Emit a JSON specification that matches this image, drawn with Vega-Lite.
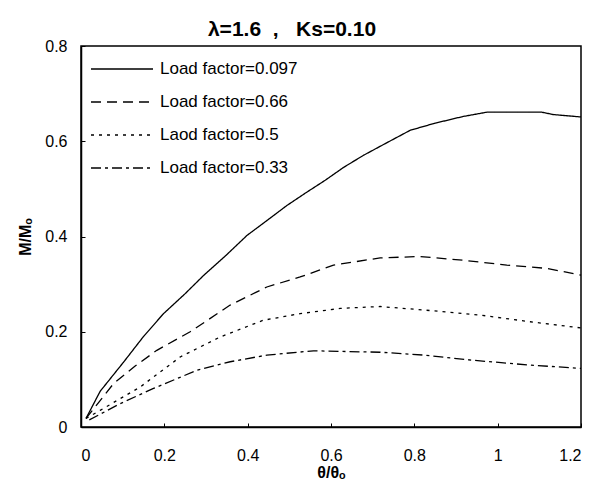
{
  "$schema": "https://vega.github.io/schema/vega-lite/v6.json",
  "width": 500,
  "height": 381,
  "autosize": "none",
  "padding": {"left": 81, "top": 46, "right": 15, "bottom": 62},
  "background": "white",
  "title": {"text": "λ=1.6\u00a0\u00a0,\u00a0\u00a0\u00a0Ks=0.10", "font": "Liberation Sans", "fontSize": 21, "fontWeight": "bold", "color": "black", "anchor": "middle", "dx": -39, "dy": 28, "offset": 9, "baseline": "alphabetic"},
  "config": {
    "view": {"stroke": "black", "strokeWidth": 1.5},
    "axis": {"grid": false, "domainColor": "black", "domainWidth": 1.5, "tickColor": "black", "tickWidth": 1, "tickSize": -4, "labelFont": "Liberation Sans", "labelFontSize": 16, "labelColor": "black", "titleFont": "Liberation Sans", "titleFontSize": 16, "titleFontWeight": "bold", "titleColor": "black", "format": "~g"}
  },
  "data": {"values": [
    {"x": 0.012, "y": 0.018, "s": "Load factor=0.097"},
    {"x": 0.046, "y": 0.075, "s": "Load factor=0.097"},
    {"x": 0.102, "y": 0.136, "s": "Load factor=0.097"},
    {"x": 0.15, "y": 0.19, "s": "Load factor=0.097"},
    {"x": 0.198, "y": 0.238, "s": "Load factor=0.097"},
    {"x": 0.25, "y": 0.28, "s": "Load factor=0.097"},
    {"x": 0.294, "y": 0.318, "s": "Load factor=0.097"},
    {"x": 0.35, "y": 0.362, "s": "Load factor=0.097"},
    {"x": 0.398, "y": 0.402, "s": "Load factor=0.097"},
    {"x": 0.45, "y": 0.436, "s": "Load factor=0.097"},
    {"x": 0.494, "y": 0.465, "s": "Load factor=0.097"},
    {"x": 0.54, "y": 0.492, "s": "Load factor=0.097"},
    {"x": 0.586, "y": 0.518, "s": "Load factor=0.097"},
    {"x": 0.63, "y": 0.545, "s": "Load factor=0.097"},
    {"x": 0.677, "y": 0.57, "s": "Load factor=0.097"},
    {"x": 0.73, "y": 0.595, "s": "Load factor=0.097"},
    {"x": 0.79, "y": 0.623, "s": "Load factor=0.097"},
    {"x": 0.85, "y": 0.638, "s": "Load factor=0.097"},
    {"x": 0.917, "y": 0.652, "s": "Load factor=0.097"},
    {"x": 0.974, "y": 0.661, "s": "Load factor=0.097"},
    {"x": 1.04, "y": 0.661, "s": "Load factor=0.097"},
    {"x": 1.106, "y": 0.661, "s": "Load factor=0.097"},
    {"x": 1.134, "y": 0.656, "s": "Load factor=0.097"},
    {"x": 1.2, "y": 0.651, "s": "Load factor=0.097"},
    {"x": 0.012, "y": 0.018, "s": "Load factor=0.66"},
    {"x": 0.078, "y": 0.091, "s": "Load factor=0.66"},
    {"x": 0.13, "y": 0.128, "s": "Load factor=0.66"},
    {"x": 0.182, "y": 0.161, "s": "Load factor=0.66"},
    {"x": 0.262, "y": 0.2, "s": "Load factor=0.66"},
    {"x": 0.358, "y": 0.256, "s": "Load factor=0.66"},
    {"x": 0.446, "y": 0.294, "s": "Load factor=0.66"},
    {"x": 0.526, "y": 0.315, "s": "Load factor=0.66"},
    {"x": 0.606, "y": 0.34, "s": "Load factor=0.66"},
    {"x": 0.718, "y": 0.355, "s": "Load factor=0.66"},
    {"x": 0.814, "y": 0.358, "s": "Load factor=0.66"},
    {"x": 0.918, "y": 0.35, "s": "Load factor=0.66"},
    {"x": 1.022, "y": 0.34, "s": "Load factor=0.66"},
    {"x": 1.118, "y": 0.333, "s": "Load factor=0.66"},
    {"x": 1.2, "y": 0.319, "s": "Load factor=0.66"},
    {"x": 0.012, "y": 0.018, "s": "Laod factor=0.5"},
    {"x": 0.046, "y": 0.035, "s": "Laod factor=0.5"},
    {"x": 0.142, "y": 0.084, "s": "Laod factor=0.5"},
    {"x": 0.238, "y": 0.147, "s": "Laod factor=0.5"},
    {"x": 0.334, "y": 0.189, "s": "Laod factor=0.5"},
    {"x": 0.437, "y": 0.224, "s": "Laod factor=0.5"},
    {"x": 0.526, "y": 0.238, "s": "Laod factor=0.5"},
    {"x": 0.622, "y": 0.249, "s": "Laod factor=0.5"},
    {"x": 0.718, "y": 0.253, "s": "Laod factor=0.5"},
    {"x": 0.846, "y": 0.244, "s": "Laod factor=0.5"},
    {"x": 0.958, "y": 0.235, "s": "Laod factor=0.5"},
    {"x": 1.078, "y": 0.221, "s": "Laod factor=0.5"},
    {"x": 1.2, "y": 0.208, "s": "Laod factor=0.5"},
    {"x": 0.02, "y": 0.015, "s": "Load factor=0.33"},
    {"x": 0.094, "y": 0.049, "s": "Load factor=0.33"},
    {"x": 0.174, "y": 0.081, "s": "Load factor=0.33"},
    {"x": 0.278, "y": 0.119, "s": "Load factor=0.33"},
    {"x": 0.358, "y": 0.137, "s": "Load factor=0.33"},
    {"x": 0.446, "y": 0.151, "s": "Load factor=0.33"},
    {"x": 0.558, "y": 0.16, "s": "Load factor=0.33"},
    {"x": 0.718, "y": 0.157, "s": "Load factor=0.33"},
    {"x": 0.822, "y": 0.151, "s": "Load factor=0.33"},
    {"x": 0.942, "y": 0.14, "s": "Load factor=0.33"},
    {"x": 1.078, "y": 0.13, "s": "Load factor=0.33"},
    {"x": 1.2, "y": 0.123, "s": "Load factor=0.33"}
  ]},
  "mark": {"type": "line", "color": "black", "strokeWidth": 1.3},
  "encoding": {
    "x": {"field": "x", "type": "quantitative", "scale": {"domain": [0, 1.2], "nice": false}, "axis": {"values": [0, 0.2, 0.4, 0.6, 0.8, 1, 1.2], "title": "θ/θₒ", "labelPadding": 24, "titlePadding": 1}},
    "y": {"field": "y", "type": "quantitative", "scale": {"domain": [0, 0.8], "nice": false}, "axis": {"values": [0, 0.2, 0.4, 0.6, 0.8], "title": "M/Mₒ", "labelPadding": 18, "titlePadding": 11}},
    "strokeDash": {"field": "s", "type": "nominal",
      "scale": {"domain": ["Load factor=0.097", "Load factor=0.66", "Laod factor=0.5", "Load factor=0.33"], "range": [[1, 0], [10, 6], [3, 5], [10, 4, 3, 4]]},
      "legend": {"orient": "none", "legendX": 9, "legendY": 14, "title": null, "symbolType": "stroke", "symbolSize": 3844, "symbolStrokeWidth": 1.3, "symbolStrokeColor": "black", "labelFont": "Liberation Sans", "labelFontSize": 17, "labelColor": "black", "labelOffset": 6, "clipHeight": 18, "rowPadding": 15, "padding": 0, "labelLimit": 300}}
  }
}
